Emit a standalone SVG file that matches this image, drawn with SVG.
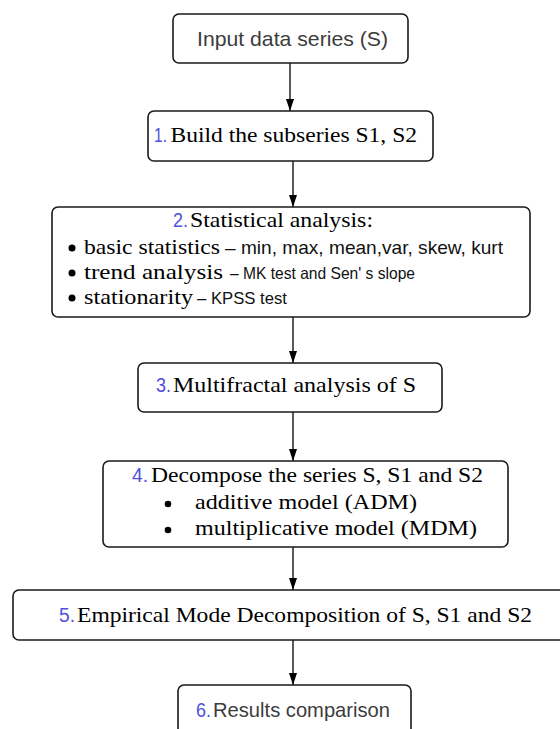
<svg xmlns="http://www.w3.org/2000/svg" width="560" height="729" viewBox="0 0 560 729">
  <style>
    .box { fill: #ffffff; stroke: #1a1a1a; stroke-width: 1.6; }
    .serif { font-family: "Liberation Serif", "DejaVu Serif", serif; font-size: 22px; fill: #000; }
    .sans { font-family: "Liberation Sans", Arial, sans-serif; fill: #111; }
    .gray { font-family: "Liberation Sans", Arial, sans-serif; font-size: 21px; fill: #3c3c3c; }
    .num { font-family: "Liberation Sans", Arial, sans-serif; font-size: 20px; fill: #5050dc; }
    .link { stroke: #000; stroke-width: 1.3; fill: none; marker-end: url(#head); }
    .dot { fill: #000; }
  </style>
  <defs>
    <marker id="head" viewBox="0 0 12 8" refX="12" refY="4" markerWidth="12" markerHeight="8" markerUnits="userSpaceOnUse" orient="auto">
      <path d="M0,0 L12,4 L0,8 Z" fill="#000"/>
    </marker>
  </defs>

  <rect width="560" height="729" fill="#ffffff"/>

  <!-- connectors -->
  <g id="connectors">
    <line class="link" x1="290" y1="63" x2="290" y2="111"/>
    <line class="link" x1="293" y1="161" x2="293" y2="207"/>
    <line class="link" x1="293" y1="317" x2="293" y2="363"/>
    <line class="link" x1="293" y1="412" x2="293" y2="461"/>
    <line class="link" x1="293" y1="547" x2="293" y2="590"/>
    <line class="link" x1="293" y1="640" x2="293" y2="685"/>
  </g>

  <!-- input -->
  <g id="input">
    <rect class="box" x="173" y="14" width="235" height="49" rx="6"/>
    <text class="gray" x="197" y="46" textLength="191" lengthAdjust="spacingAndGlyphs">Input data series (S)</text>
  </g>

  <!-- step 1 -->
  <g id="step1">
    <rect class="box" x="148" y="111" width="285" height="50" rx="6"/>
    <text class="num" x="154" y="142" font-size="19" textLength="13" lengthAdjust="spacingAndGlyphs">1.</text>
    <text class="serif" x="170.5" y="142" textLength="246.5" lengthAdjust="spacingAndGlyphs">Build the subseries S1, S2</text>
  </g>

  <!-- step 2 -->
  <g id="step2">
    <rect class="box" x="52" y="207" width="478" height="110" rx="6"/>
    <text class="num" x="173" y="227" textLength="15" lengthAdjust="spacingAndGlyphs">2.</text>
    <text class="serif" x="190" y="227" textLength="183" lengthAdjust="spacingAndGlyphs">Statistical analysis:</text>

    <circle class="dot" cx="72" cy="248" r="3.5"/>
    <text class="serif" x="84" y="254" textLength="136" lengthAdjust="spacingAndGlyphs">basic statistics</text>
    <text class="sans" x="225" y="254" font-size="19" textLength="278" lengthAdjust="spacingAndGlyphs">– min, max, mean,var, skew, kurt</text>

    <circle class="dot" cx="72" cy="273" r="3.5"/>
    <text class="serif" x="84" y="279" textLength="139" lengthAdjust="spacingAndGlyphs">trend analysis</text>
    <text class="sans" x="230" y="279" font-size="16.5" textLength="185" lengthAdjust="spacingAndGlyphs">– MK test and Sen' s slope</text>

    <circle class="dot" cx="72" cy="298" r="3.5"/>
    <text class="serif" x="84" y="304" textLength="109" lengthAdjust="spacingAndGlyphs">stationarity</text>
    <text class="sans" x="197" y="304" font-size="16.5" textLength="90" lengthAdjust="spacingAndGlyphs">– KPSS test</text>
  </g>

  <!-- step 3 -->
  <g id="step3">
    <rect class="box" x="138" y="363" width="304" height="49" rx="6"/>
    <text class="num" x="156" y="392" textLength="15" lengthAdjust="spacingAndGlyphs">3.</text>
    <text class="serif" x="173" y="392" textLength="243" lengthAdjust="spacingAndGlyphs">Multifractal analysis of S</text>
  </g>

  <!-- step 4 -->
  <g id="step4">
    <rect class="box" x="103" y="461" width="405" height="86" rx="6"/>
    <text class="num" x="132" y="482" textLength="16" lengthAdjust="spacingAndGlyphs">4.</text>
    <text class="serif" x="151" y="482" textLength="332" lengthAdjust="spacingAndGlyphs">Decompose the series S, S1 and S2</text>

    <circle class="dot" cx="168" cy="504" r="3.3"/>
    <text class="serif" x="195" y="509" textLength="222" lengthAdjust="spacingAndGlyphs">additive model (ADM)</text>

    <circle class="dot" cx="168" cy="530" r="3.3"/>
    <text class="serif" x="195" y="535" textLength="282" lengthAdjust="spacingAndGlyphs">multiplicative model (MDM)</text>
  </g>

  <!-- step 5 -->
  <g id="step5">
    <rect class="box" x="13" y="590" width="560" height="50" rx="6"/>
    <text class="num" x="59" y="622" textLength="16" lengthAdjust="spacingAndGlyphs">5.</text>
    <text class="serif" x="77" y="622" textLength="455" lengthAdjust="spacingAndGlyphs">Empirical Mode Decomposition of S, S1 and S2</text>
  </g>

  <!-- step 6 -->
  <g id="step6">
    <rect class="box" x="178" y="685" width="233" height="60" rx="6"/>
    <text class="num" x="196" y="717" font-size="21" textLength="15" lengthAdjust="spacingAndGlyphs">6.</text>
    <text class="gray" x="213" y="717" textLength="177" lengthAdjust="spacingAndGlyphs">Results comparison</text>
  </g>
</svg>
